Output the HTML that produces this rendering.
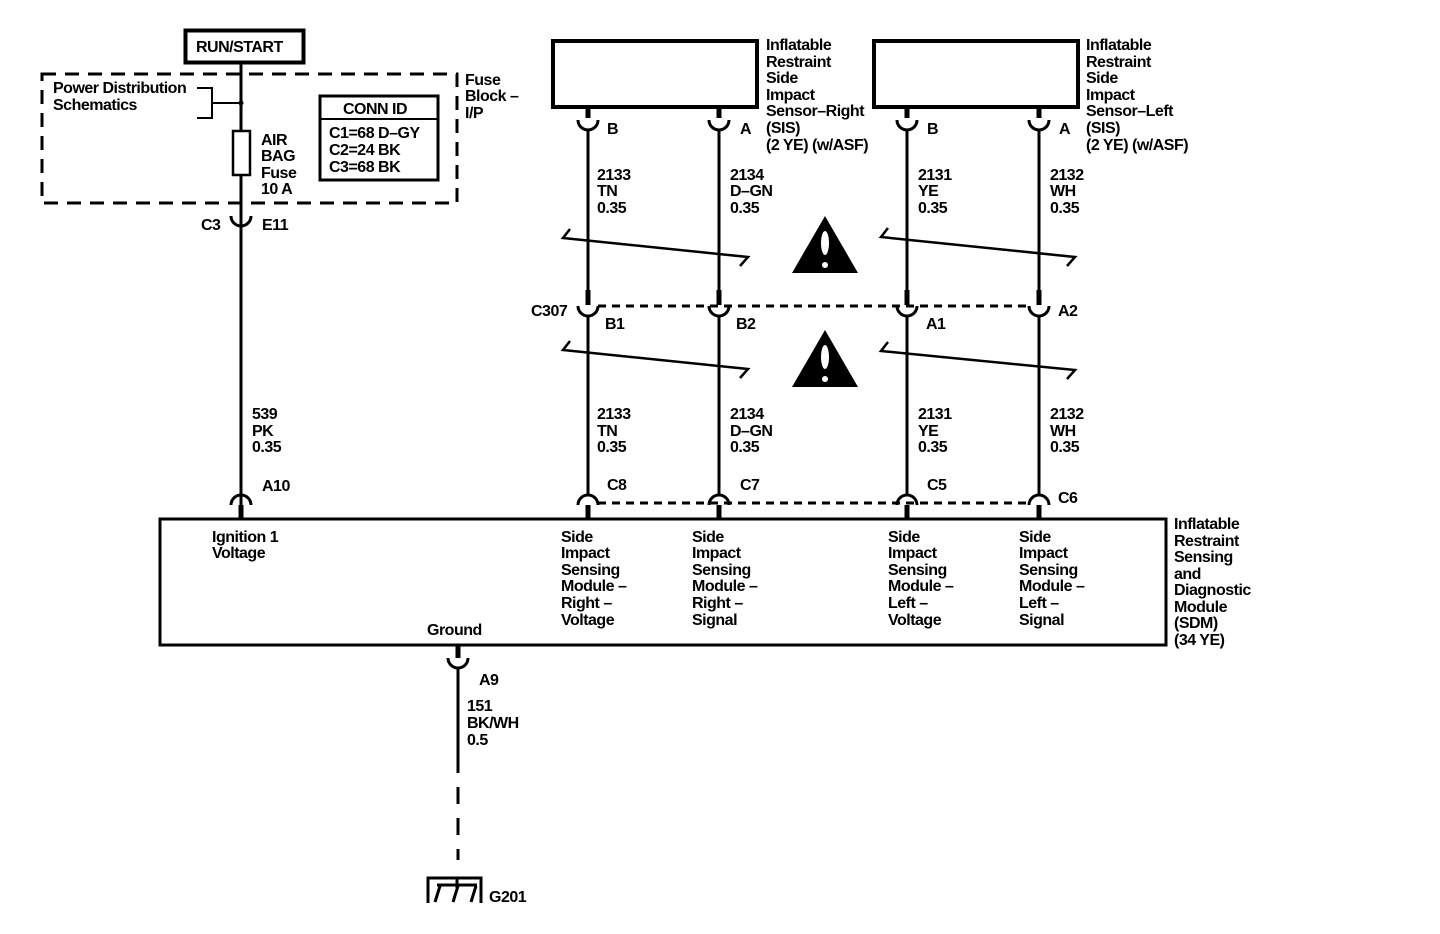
<!DOCTYPE html>
<html><head><meta charset="utf-8"><style>
html,body{margin:0;padding:0;background:#fff;}
svg{display:block;}
text{font-family:"Liberation Sans",Arial,sans-serif;font-size:16px;font-weight:bold;fill:#000;letter-spacing:-0.5px;}
</style></head><body>
<svg width="1440" height="934" viewBox="0 0 1440 934" xmlns="http://www.w3.org/2000/svg">
<g fill="none" stroke="#000">
<rect x="185.5" y="30.5" width="118" height="32" stroke-width="4"/>
<rect x="42" y="74" width="415" height="129" stroke-width="3" stroke-dasharray="14,9"/>
<path d="M197 88 H212 V118 H197 M212 103 H241" stroke-width="2"/>
<circle cx="241" cy="103" r="2.5" fill="#000" stroke="none"/>
<rect x="233" y="131" width="17" height="44" stroke-width="2.5" fill="#fff"/>
<rect x="320" y="96" width="118" height="84" stroke-width="3"/>
<line x1="320" y1="119" x2="438" y2="119" stroke-width="2"/>
<line x1="241" y1="63" x2="241" y2="131" stroke-width="3"/>
<line x1="241" y1="175" x2="241" y2="505" stroke-width="3"/>
<path d="M231 216 A10 10 0 0 0 251 216" stroke-width="3"/>
<path d="M231 505 A10 10 0 0 1 251 505" stroke-width="3"/>
<line x1="241" y1="505" x2="241" y2="518" stroke-width="5"/>
<rect x="160" y="519" width="1006" height="126" stroke-width="3"/>
<rect x="553" y="41" width="204" height="66" stroke-width="4"/>
<rect x="874" y="41" width="204" height="66" stroke-width="4"/>
<line x1="598" y1="306" x2="1030" y2="306" stroke-width="3" stroke-dasharray="8,6"/>
<line x1="598" y1="503" x2="1030" y2="503" stroke-width="3" stroke-dasharray="8,6"/>
<path d="M570 229 L563 238 L748 257 L740 266" stroke-width="2.5"/>
<path d="M570 341 L563 350 L748 369 L740 378" stroke-width="2.5"/>
<path d="M888 228 L881 237 L1075 257 L1067 266" stroke-width="2.5"/>
<path d="M888 342 L881 351 L1075 370 L1067 379" stroke-width="2.5"/>
<line x1="458" y1="645" x2="458" y2="658" stroke-width="5"/>
<path d="M448 658 A10 10 0 0 0 468 658" stroke-width="3"/>
<line x1="458" y1="668" x2="458" y2="773" stroke-width="3"/>
<line x1="458" y1="773" x2="458" y2="860" stroke-width="3" stroke-dasharray="17,14" stroke-dashoffset="-14"/>
<path d="M428 903 V878 H481 V903" stroke-width="3"/>
<path d="M457 878 V888 M437 885 H477 M440 886 L435 902 M458 886 L453 902 M476 886 L471 902" stroke-width="3"/>
</g>
<g fill="none" stroke="#000">
<path d="M588 107 V118 M719 107 V118 M907 107 V118 M1039 107 V118 M588 290 V305 M719 290 V305 M907 290 V305 M1039 290 V305 M588 505 V518 M719 505 V518 M907 505 V518 M1039 505 V518" stroke-width="5"/>
<path d="M578 120 A10 10 0 0 0 598 120 M709 120 A10 10 0 0 0 729 120 M897 120 A10 10 0 0 0 917 120 M1029 120 A10 10 0 0 0 1049 120" stroke-width="3"/>
<path d="M578 306 A10 10 0 0 0 598 306 M709 306 A10 10 0 0 0 729 306 M897 306 A10 10 0 0 0 917 306 M1029 306 A10 10 0 0 0 1049 306" stroke-width="3"/>
<path d="M578 505 A10 10 0 0 1 598 505 M709 505 A10 10 0 0 1 729 505 M897 505 A10 10 0 0 1 917 505 M1029 505 A10 10 0 0 1 1049 505" stroke-width="3"/>
<path d="M588 130 V292 M719 130 V292 M907 130 V292 M1039 130 V292 M588 316 V495 M719 316 V495 M907 316 V495 M1039 316 V495" stroke-width="3"/>
</g>
<polygon points="825,216 792,273 858,273" fill="#000"/>
<ellipse cx="825" cy="243" rx="4" ry="12" fill="#fff"/>
<circle cx="825" cy="265" r="3" fill="#fff"/>
<polygon points="825,330 792,387 858,387" fill="#000"/>
<ellipse cx="825" cy="357" rx="4" ry="12" fill="#fff"/>
<circle cx="825" cy="379" r="3" fill="#fff"/>
<text x="196" y="52">RUN/START</text>
<text x="53" y="93">Power Distribution</text>
<text x="53" y="110">Schematics</text>
<text x="465" y="85">Fuse</text>
<text x="465" y="101">Block –</text>
<text x="465" y="118">I/P</text>
<text x="261" y="145">AIR</text>
<text x="261" y="161">BAG</text>
<text x="261" y="178">Fuse</text>
<text x="261" y="194">10 A</text>
<text x="343" y="114">CONN ID</text>
<text x="329" y="138">C1=68 D–GY</text>
<text x="329" y="155">C2=24 BK</text>
<text x="329" y="172">C3=68 BK</text>
<text x="201" y="230">C3</text>
<text x="262" y="230">E11</text>
<text x="252" y="419">539</text>
<text x="252" y="436">PK</text>
<text x="252" y="452">0.35</text>
<text x="262" y="491">A10</text>
<g>
<text x="766" y="50">Inflatable</text><text x="766" y="67">Restraint</text><text x="766" y="83">Side</text><text x="766" y="100">Impact</text><text x="766" y="116">Sensor–Right</text><text x="766" y="133">(SIS)</text><text x="766" y="150">(2 YE) (w/ASF)</text>
<text x="1086" y="50">Inflatable</text><text x="1086" y="67">Restraint</text><text x="1086" y="83">Side</text><text x="1086" y="100">Impact</text><text x="1086" y="116">Sensor–Left</text><text x="1086" y="133">(SIS)</text><text x="1086" y="150">(2 YE) (w/ASF)</text>
</g>
<text x="607" y="134">B</text><text x="740" y="134">A</text><text x="927" y="134">B</text><text x="1059" y="134">A</text>
<text x="597" y="180">2133</text><text x="597" y="196">TN</text><text x="597" y="213">0.35</text>
<text x="730" y="180">2134</text><text x="730" y="196">D–GN</text><text x="730" y="213">0.35</text>
<text x="918" y="180">2131</text><text x="918" y="196">YE</text><text x="918" y="213">0.35</text>
<text x="1050" y="180">2132</text><text x="1050" y="196">WH</text><text x="1050" y="213">0.35</text>
<text x="531" y="316">C307</text><text x="605" y="329">B1</text><text x="736" y="329">B2</text><text x="926" y="329">A1</text><text x="1058" y="316">A2</text>
<text x="597" y="419">2133</text><text x="597" y="436">TN</text><text x="597" y="452">0.35</text>
<text x="730" y="419">2134</text><text x="730" y="436">D–GN</text><text x="730" y="452">0.35</text>
<text x="918" y="419">2131</text><text x="918" y="436">YE</text><text x="918" y="452">0.35</text>
<text x="1050" y="419">2132</text><text x="1050" y="436">WH</text><text x="1050" y="452">0.35</text>
<text x="607" y="490">C8</text><text x="740" y="490">C7</text><text x="927" y="490">C5</text><text x="1058" y="503">C6</text>
<text x="212" y="542">Ignition 1</text><text x="212" y="558">Voltage</text>
<g>
<text x="561" y="542">Side</text><text x="561" y="558">Impact</text><text x="561" y="575">Sensing</text><text x="561" y="591">Module –</text><text x="561" y="608">Right –</text><text x="561" y="625">Voltage</text>
<text x="692" y="542">Side</text><text x="692" y="558">Impact</text><text x="692" y="575">Sensing</text><text x="692" y="591">Module –</text><text x="692" y="608">Right –</text><text x="692" y="625">Signal</text>
<text x="888" y="542">Side</text><text x="888" y="558">Impact</text><text x="888" y="575">Sensing</text><text x="888" y="591">Module –</text><text x="888" y="608">Left –</text><text x="888" y="625">Voltage</text>
<text x="1019" y="542">Side</text><text x="1019" y="558">Impact</text><text x="1019" y="575">Sensing</text><text x="1019" y="591">Module –</text><text x="1019" y="608">Left –</text><text x="1019" y="625">Signal</text>
</g>
<text x="427" y="635">Ground</text>
<text x="1174" y="529">Inflatable</text><text x="1174" y="546">Restraint</text><text x="1174" y="562">Sensing</text><text x="1174" y="579">and</text><text x="1174" y="595">Diagnostic</text><text x="1174" y="612">Module</text><text x="1174" y="628">(SDM)</text><text x="1174" y="645">(34 YE)</text>
<text x="479" y="685">A9</text>
<text x="467" y="711">151</text><text x="467" y="728">BK/WH</text><text x="467" y="745">0.5</text>
<text x="489" y="902">G201</text>
</svg>
</body></html>
